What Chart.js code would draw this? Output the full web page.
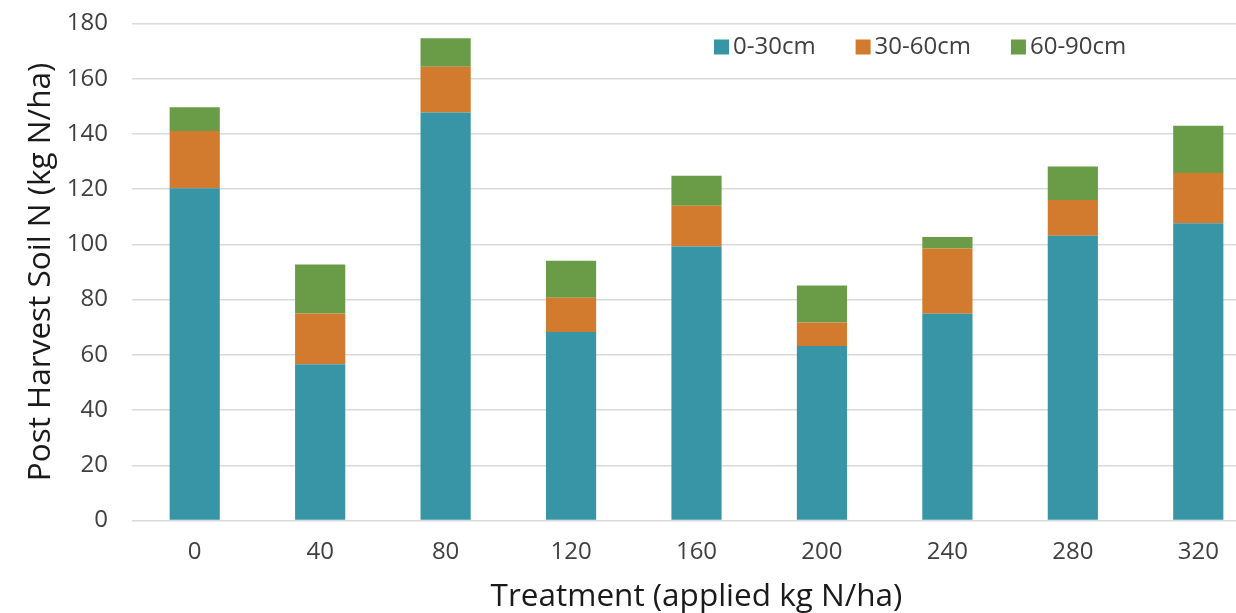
<!DOCTYPE html>
<html>
<head>
<meta charset="utf-8">
<script src="https://cdn.jsdelivr.net/npm/chart.js@4/dist/chart.umd.min.js"></script>
<style>
  html, body { margin: 0; padding: 0; background: #fff; overflow: hidden; }
  #wrap { width: 1262px; height: 613px; position: relative; }
</style>
</head>
<body>
<div id="wrap"><canvas id="soilChart"></canvas></div>
<script>
// treatments (applied kg N/ha)
const treatments = ['0', '40', '80', '120', '160', '200', '240', '280', '320'];

// soil N per depth layer, kg N/ha
const depth0to30 = [120.3, 56.6, 147.8, 68.3, 99.2, 63.2, 74.9, 103.1, 107.7];
const depth30to60 = [20.8, 18.4, 16.5, 12.4, 14.8, 8.5, 23.6, 13.0, 18.2];
const depth60to90 = [8.6, 17.7, 10.4, 13.4, 10.9, 13.4, 4.2, 12.1, 17.1];

const layerNames = ['0-30cm', '30-60cm', '60-90cm'];
const layerColors = ['#3795A5', '#D27B2E', '#6A9B47'];

const yTicks = [0, 20, 40, 60, 80, 100, 120, 140, 160, 180];

const FONT = "'Open Sans', 'Noto Sans', sans-serif";

// legend sits inside the plot, top right
const insideLegend = {
  id: 'insideLegend',
  afterDraw(chart) {
    const ctx = chart.ctx;
    ctx.save();
    ctx.font = '24px ' + FONT;
    ctx.textBaseline = 'middle';
    let x = 714;
    const y = 47;
    chart.data.datasets.forEach(ds => {
      ctx.fillStyle = ds.backgroundColor;
      ctx.fillRect(x, y - 7.5, 15, 15);
      ctx.fillStyle = '#404040';
      ctx.fillText(ds.label, x + 19, y);
      x += 19 + ctx.measureText(ds.label).width + 40;
    });
    ctx.restore();
  }
};

const ctx = document.getElementById('soilChart').getContext('2d');
new Chart(ctx, {
  type: 'bar',
  data: {
    labels: treatments,
    datasets: [
      { label: layerNames[0], data: depth0to30, backgroundColor: layerColors[0] },
      { label: layerNames[1], data: depth30to60, backgroundColor: layerColors[1] },
      { label: layerNames[2], data: depth60to90, backgroundColor: layerColors[2] }
    ]
  },
  options: {
    responsive: true,
    maintainAspectRatio: false,
    animation: false,
    layout: { padding: { top: 23.5, right: 1, left: 0, bottom: 0 } },
    datasets: { bar: { barPercentage: 0.4, categoryPercentage: 1 } },
    plugins: {
      legend: { display: false },
      tooltip: { enabled: false }
    },
    scales: {
      x: {
        stacked: true,
        grid: { display: false },
        border: { display: false },
        ticks: { color: '#404040', font: { family: FONT, size: 24 }, padding: 9 },
        title: {
          display: true,
          text: 'Treatment (applied kg N/ha)',
          color: '#1a1a1a',
          font: { family: FONT, size: 31.5, lineHeight: 1 },
          padding: 0
        },
        afterFit: s => { s.height = 92.5; }
      },
      y: {
        stacked: true,
        min: 0,
        max: 180,
        afterBuildTicks: s => { s.ticks = yTicks.map(v => ({ value: v })); },
        grid: { color: '#d9d9d9', lineWidth: 1.5, drawTicks: false },
        border: { display: false },
        ticks: { color: '#404040', font: { family: FONT, size: 24 }, padding: 24 },
        title: {
          display: true,
          text: 'Post Harvest Soil N (kg N/ha)',
          color: '#1a1a1a',
          font: { family: FONT, size: 31.5 },
          padding: 22
        },
        afterFit: s => {
          s.width = 132;
          s.paddingTop = 0;
          s.paddingBottom = 0;
        }
      }
    }
  },
  plugins: [insideLegend]
});
</script>
</body>
</html>
